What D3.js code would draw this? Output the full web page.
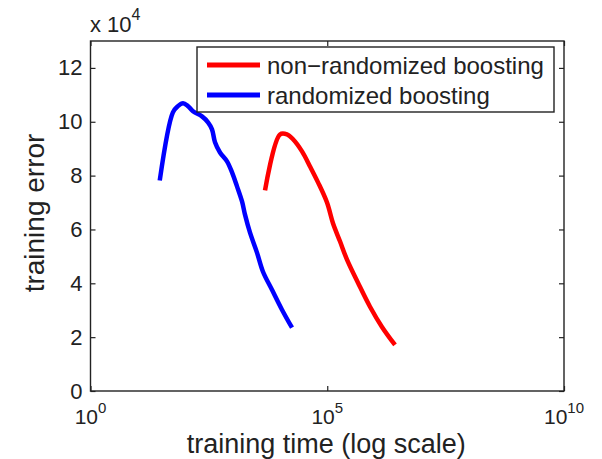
<!DOCTYPE html>
<html>
<head>
<meta charset="utf-8">
<script src="https://d3js.org/d3.v7.min.js"></script>
<style>
  body { margin: 0; background: #fff; }
  text { font-family: "Liberation Sans", Arial, sans-serif; fill: #222; }
</style>
</head>
<body>
<div id="chart"></div>
<script>
// training time (seconds) and training error for each method
var randTime = [29, 55, 70, 90, 115, 146, 226, 303, 368, 426, 543, 764, 975, 1242, 1585, 1832, 2339, 3281, 4395, 6808, 11066, 18030];
var randErr  = [78200, 103500, 105800, 106900, 105800, 103900, 102000, 99800, 97200, 92400, 88600, 85300, 81200, 76000, 70400, 65500, 58800, 51400, 44300, 37600, 30200, 23500];

var nonRandTime = [4853, 10046, 14125, 18923, 29309, 43251, 63826, 98855, 132130, 185780, 261216, 445656, 799834, 1432188, 2697739];
var nonRandErr  = [74500, 95300, 95300, 93500, 89000, 83400, 77500, 70000, 62300, 55600, 48800, 40200, 31300, 23800, 17100];

var xTicks = [1, 1e5, 1e10];
var xTickExp = ["0", "5", "10"];
var yTicks = [0, 20000, 40000, 60000, 80000, 100000, 120000];

var seriesNames = ["non\u2212randomized boosting", "randomized boosting"];
var seriesColors = ["#ff0000", "#0000ff"];

var svgWidth = 602, svgHeight = 459;
var margin = {top: 41, right: 38, bottom: 68, left: 90.5};
var chartWidth = svgWidth - margin.left - margin.right;
var chartHeight = svgHeight - margin.top - margin.bottom;

var svg = d3.select("#chart").append("svg")
    .attr("width", svgWidth)
    .attr("height", svgHeight);

var g = svg.append("g")
    .attr("transform", `translate(${margin.left}, ${margin.top})`);

var x = d3.scaleLog().domain([1, 1e10]).range([0, chartWidth]);
var y = d3.scaleLinear().domain([0, 130000]).range([chartHeight, 0]);

// box + inward ticks on all four sides
function styleAxis(sel) {
    sel.select(".domain").remove();
    sel.selectAll(".tick line").attr("stroke", "#222").attr("stroke-width", 1.2);
}
g.append("g").call(d3.axisLeft(y).tickValues(yTicks).tickSize(-5).tickFormat(d => d / 1e4))
    .call(styleAxis)
    .call(s => s.selectAll("text").attr("x", -8).attr("font-size", 22).attr("font-family", null).attr("fill", "#222"));
g.append("g").attr("transform", `translate(${chartWidth},0)`)
    .call(d3.axisRight(y).tickValues(yTicks).tickSize(-5).tickFormat(""))
    .call(styleAxis);
g.append("g").attr("transform", `translate(0,${chartHeight})`)
    .call(d3.axisBottom(x).tickValues(xTicks).tickSize(-5).tickFormat(""))
    .call(styleAxis);
g.append("g")
    .call(d3.axisTop(x).tickValues(xTicks).tickSize(-5).tickFormat(""))
    .call(styleAxis);

g.append("rect")
    .attr("width", chartWidth).attr("height", chartHeight)
    .attr("fill", "none").attr("stroke", "#222").attr("stroke-width", 1.4);

// x tick labels as 10^n
xTicks.forEach(function(v, i) {
    var t = g.append("text")
        .attr("x", x(v)).attr("y", chartHeight + 33)
        .attr("text-anchor", "middle")
        .attr("font-size", 21);
    t.append("tspan").text("10");
    t.append("tspan").attr("dy", -11).attr("font-size", 15).text(xTickExp[i]);
});

// exponent note
var ex = svg.append("text").attr("x", 90).attr("y", 32).attr("font-size", 22);
ex.append("tspan").text("x 10");
ex.append("tspan").attr("dy", -12).attr("font-size", 16).text("4");

// axis titles
g.append("text")
    .attr("x", chartWidth / 2 - 1).attr("y", chartHeight + 62)
    .attr("text-anchor", "middle").attr("font-size", 27)
    .text("training time (log scale)");
g.append("text")
    .attr("transform", "rotate(-90)")
    .attr("x", -chartHeight / 2 + 3).attr("y", -47)
    .attr("text-anchor", "middle").attr("font-size", 28)
    .text("training error");

// curves
var line = d3.line().x(d => x(d[0])).y(d => y(d[1])).curve(d3.curveCatmullRom);
var nonRand = d3.zip(nonRandTime, nonRandErr);
var rand = d3.zip(randTime, randErr);

g.append("path").datum(nonRand)
    .attr("d", line).attr("fill", "none")
    .attr("stroke", seriesColors[0]).attr("stroke-width", 4.5)
    .attr("stroke-linejoin", "round");
g.append("path").datum(rand)
    .attr("d", line).attr("fill", "none")
    .attr("stroke", seriesColors[1]).attr("stroke-width", 4.5)
    .attr("stroke-linejoin", "round");

// legend
var lg = svg.append("g").attr("transform", "translate(197,47)");
lg.append("rect").attr("width", 357).attr("height", 65)
    .attr("fill", "#fff").attr("stroke", "#222").attr("stroke-width", 1.4);
seriesNames.forEach(function(name, i) {
    var yy = 18 + i * 30;
    lg.append("line").attr("x1", 10).attr("x2", 63).attr("y1", yy).attr("y2", yy)
        .attr("stroke", seriesColors[i]).attr("stroke-width", 5);
    lg.append("text").attr("x", 70).attr("y", yy + 9).attr("font-size", 24).text(name);
});
</script>
</body>
</html>
